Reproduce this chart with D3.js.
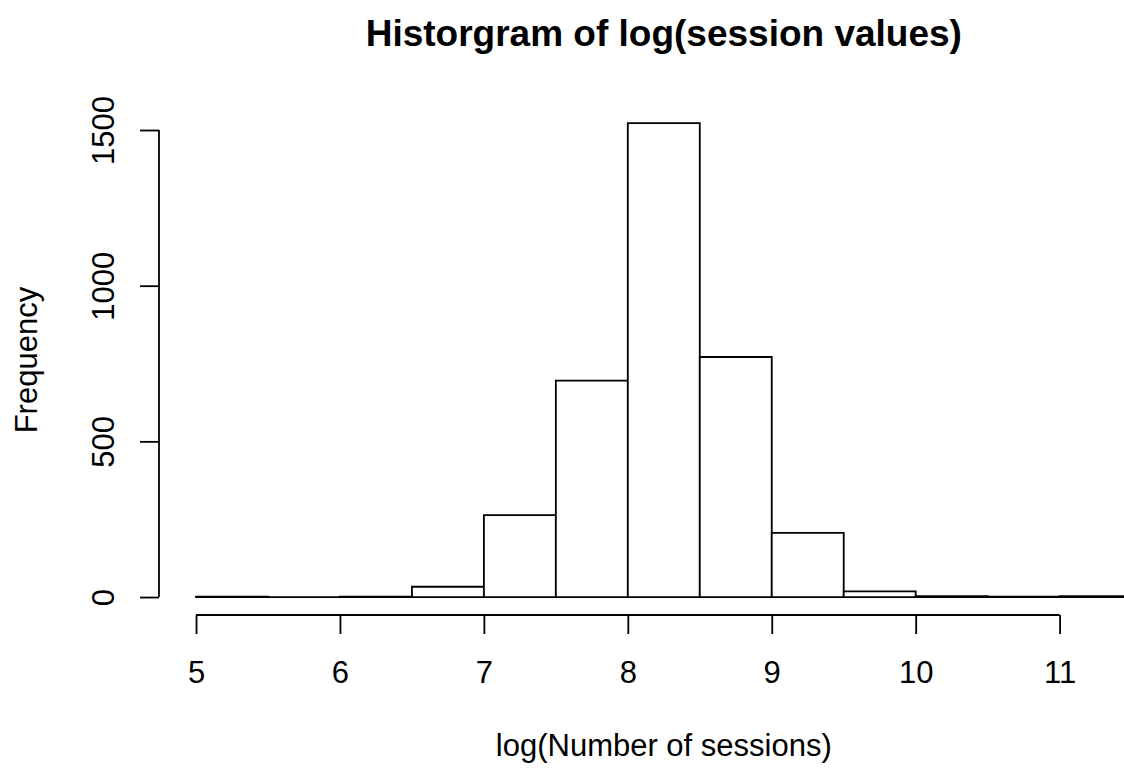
<!DOCTYPE html>
<html>
<head>
<meta charset="utf-8">
<script src="https://cdn.jsdelivr.net/npm/d3@7"></script>
<style>
  body { margin: 0; background: #fff; }
  svg text { font-family: "Liberation Sans", Arial, Helvetica, sans-serif; fill: #000; }
</style>
</head>
<body>
<svg id="chart" width="1124" height="768"></svg>
<script>
// histogram bins (left edges, width 0.5) and counts
var binStarts = [5, 5.5, 6, 6.5, 7, 7.5, 8, 8.5, 9, 9.5, 10, 10.5, 11];
var binWidth = 0.5;
var counts = [1, 0, 1, 33, 263, 695, 1522, 771, 206, 18, 3, 1, 3];
var xTicks = [5, 6, 7, 8, 9, 10, 11];
var yTicks = [0, 500, 1000, 1500];

var svg = d3.select('#chart'),
    cs = {
        plot: { left: 158.6, right: 1169, top: 104.2, bottom: 616 },
        lw: 1.8,
        font: { axis: 31, title: 37 }
    };

// R style 4% range extension
var xMin = binStarts[0], xMax = binStarts[binStarts.length - 1] + binWidth,
    yMax = d3.max(counts);
var xPad = (xMax - xMin) * 0.04, yPad = yMax * 0.04;

var x = d3.scaleLinear().domain([xMin - xPad, xMax + xPad]).range([cs.plot.left, cs.plot.right]);
var y = d3.scaleLinear().domain([-yPad, yMax + yPad]).range([cs.plot.bottom, cs.plot.top]);

var bins = binStarts.map(function (s, i) { return { x0: s, x1: s + binWidth, n: counts[i] }; });

// drawn as closed paths so that empty bins still show as a line, like R does
svg.append('g').selectAll('path').data(bins).enter()
    .append('path')
    .attr('d', function (d) {
        var p = d3.path();
        p.moveTo(x(d.x0), y(0));
        p.lineTo(x(d.x1), y(0));
        p.lineTo(x(d.x1), y(d.n));
        p.lineTo(x(d.x0), y(d.n));
        p.closePath();
        return p.toString();
    })
    .attr('fill', '#fff')
    .attr('stroke', '#000')
    .attr('stroke-width', cs.lw);

// x axis
var xAxis = d3.axisBottom(x).tickValues(xTicks).tickSize(19).tickSizeOuter(0).tickFormat(d3.format('d'));
var gx = svg.append('g').attr('transform', 'translate(0,615)').call(xAxis);
gx.select('.domain').remove();
gx.append('line')
    .attr('x1', x(xTicks[0])).attr('x2', x(xTicks[xTicks.length - 1]))
    .attr('stroke', '#000').attr('stroke-width', cs.lw);
gx.selectAll('.tick line').attr('stroke', '#000').attr('stroke-width', cs.lw);
gx.selectAll('.tick text')
    .attr('y', 68).attr('dy', 0)
    .style('font-size', cs.font.axis + 'px')
    .style('font-family', '"Liberation Sans", Arial, sans-serif')
    .attr('fill', '#000');

// y axis
var yAxis = d3.axisLeft(y).tickValues(yTicks).tickSize(19).tickSizeOuter(0).tickFormat(d3.format('d'));
var gy = svg.append('g').attr('transform', 'translate(159,0)').call(yAxis);
gy.select('.domain').remove();
gy.append('line')
    .attr('y1', y(yTicks[0])).attr('y2', y(yTicks[yTicks.length - 1]))
    .attr('stroke', '#000').attr('stroke-width', cs.lw);
gy.selectAll('.tick line').attr('stroke', '#000').attr('stroke-width', cs.lw);
gy.selectAll('.tick text')
    .attr('x', null).attr('dy', 0)
    .attr('transform', 'translate(-45,0) rotate(-90)')
    .attr('text-anchor', 'middle')
    .style('font-size', cs.font.axis + 'px')
    .style('font-family', '"Liberation Sans", Arial, sans-serif')
    .attr('fill', '#000');

var cx = (cs.plot.left + cs.plot.right) / 2,
    cy = (cs.plot.top + cs.plot.bottom) / 2;

svg.append('text')
    .attr('x', cx).attr('y', 46)
    .attr('text-anchor', 'middle')
    .style('font-size', cs.font.title + 'px')
    .style('font-weight', 'bold')
    .text('Historgram of log(session values)');

svg.append('text')
    .attr('x', cx).attr('y', 756)
    .attr('text-anchor', 'middle')
    .style('font-size', cs.font.axis + 'px')
    .text('log(Number of sessions)');

svg.append('text')
    .attr('transform', 'translate(37,' + cy + ') rotate(-90)')
    .attr('text-anchor', 'middle')
    .style('font-size', cs.font.axis + 'px')
    .text('Frequency');
</script>
</body>
</html>
